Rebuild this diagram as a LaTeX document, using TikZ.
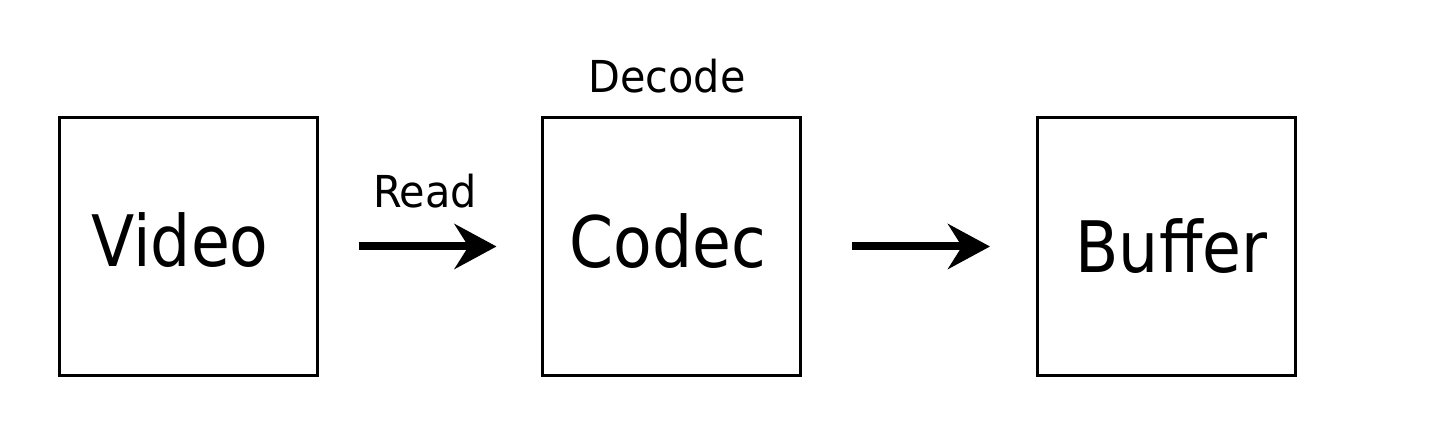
\documentclass[tikz,border=0pt]{standalone}
\usepackage{fontspec}
\newfontfamily\tf[FakeStretch=0.89]{DejaVu Sans}
\newfontfamily\tfs[FakeStretch=0.94]{DejaVu Sans}
\usetikzlibrary{arrows.meta}
\tikzset{
  box/.style={draw=black, line width=3pt, minimum width=258pt, minimum height=258pt, inner sep=0pt},
  bigtext/.style={anchor=base, inner sep=0pt, font=\tf\fontsize{71}{80}\selectfont},
  smalltext/.style={anchor=base, inner sep=0pt, font=\tfs\fontsize{44}{50}\selectfont},
  flow/.style={line width=8pt, -{Stealth[length=42pt, width=45pt, inset=14pt]}}
}
\begin{document}
\begin{tikzpicture}[x=1pt,y=1pt]
\useasboundingbox[fill=white] (0,0) rectangle (1440,439);
\node[box] (video) at (188,192.5) {};
\node[box] (codec) at (671,192.5) {};
\node[box] (buffer) at (1166.5,192.5) {};
\node[bigtext] (videot) at (180,172) {Video};
\node[bigtext] (codect) at (667.5,171) {Codec};
\node[bigtext] (buffert) at (1171.5,166) {Buffer};
\node[smalltext] (read) at (425,231) {Read};
\node[smalltext] (decode) at (667,346) {Decode};
\draw[flow, shorten <=40pt, shorten >=44pt] (video.east) -- (codec.west);
\draw[flow, shorten <=50pt, shorten >=46pt] (codec.east) -- (buffer.west);
\end{tikzpicture}
\end{document}
